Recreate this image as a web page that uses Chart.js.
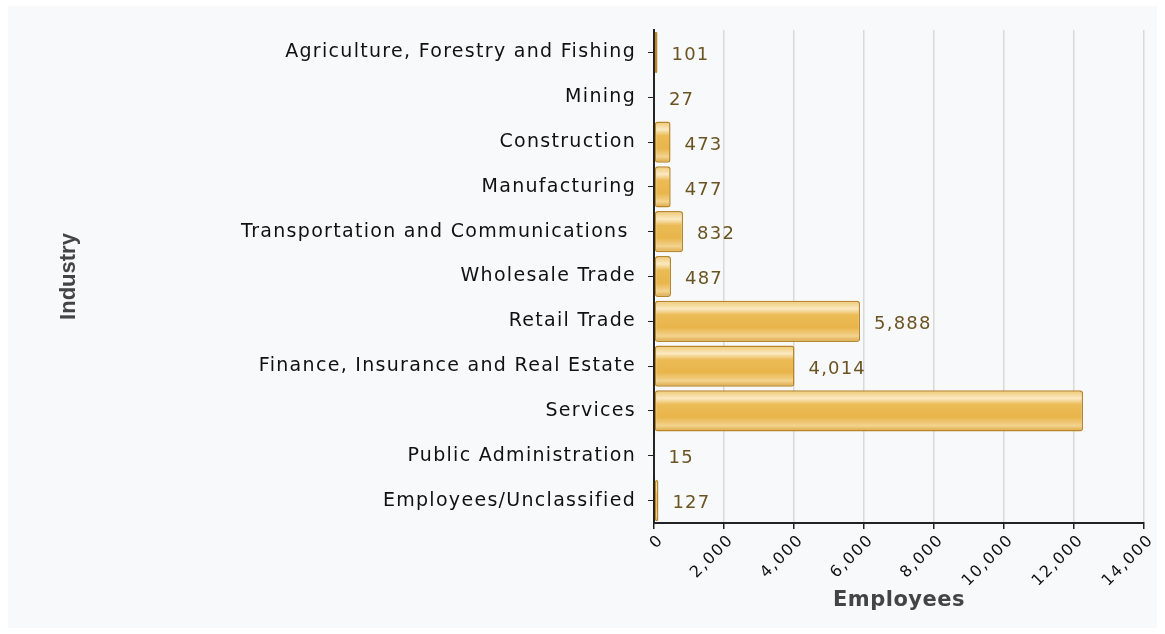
<!DOCTYPE html>
<html>
<head>
<meta charset="utf-8">
<script src="https://cdn.jsdelivr.net/npm/chart.js@4.4.1/dist/chart.umd.min.js"></script>
<style>
  html, body { margin: 0; padding: 0; background: #ffffff; }
  #wrap { width: 1165px; height: 634px; }
</style>
</head>
<body>
<div id="wrap"><canvas id="industry-chart"></canvas></div>
<script>
var industries = [
    "Agriculture, Forestry and Fishing",
    "Mining",
    "Construction",
    "Manufacturing",
    "Transportation and Communications ",
    "Wholesale Trade",
    "Retail Trade",
    "Finance, Insurance and Real Estate",
    "Services",
    "Public Administration",
    "Employees/Unclassified"
];
var employees = [101, 27, 473, 477, 832, 487, 5888, 4014, 12259, 15, 127];
var xTicks = [0, 2000, 4000, 6000, 8000, 10000, 12000, 14000];

// light panel behind the chart
var panel = {
    id: 'panel',
    beforeDraw: function (chart) {
        var ctx = chart.ctx;
        ctx.save();
        ctx.fillStyle = '#ffffff';
        ctx.fillRect(0, 0, chart.width, chart.height);
        ctx.fillStyle = '#f8f9fb';
        ctx.fillRect(8, 6, chart.width - 16, chart.height - 12);
        ctx.restore();
    }
};

// value labels right of each bar
var valueLabels = {
    id: 'valueLabels',
    afterDatasetsDraw: function (chart) {
        var ctx = chart.ctx;
        var meta = chart.getDatasetMeta(0);
        ctx.save();
        ctx.font = '18px "DejaVu Sans"';
        ctx.letterSpacing = '1.2px';
        ctx.fillStyle = '#6b5423';
        ctx.textBaseline = 'middle';
        meta.data.forEach(function (bar, i) {
            var txt = employees[i].toLocaleString('en-US');
            var x = bar.x + 14;
            if (x + ctx.measureText(txt).width > chart.chartArea.right) return;
            ctx.fillText(txt, x, bar.y + 3);
        });
        ctx.restore();
    }
};

// letter spacing for tick labels and titles of one scale
function spaceText(scale, labelSp, titleSp) {
    if (scale._spaced) return;
    scale._spaced = true;
    var drawLabels = scale.drawLabels, drawTitle = scale.drawTitle;
    scale.drawLabels = function (area) {
        var old = this.ctx.letterSpacing;
        this.ctx.letterSpacing = labelSp;
        drawLabels.call(this, area);
        this.ctx.letterSpacing = old;
    };
    scale.drawTitle = function () {
        var old = this.ctx.letterSpacing;
        this.ctx.letterSpacing = titleSp;
        drawTitle.call(this);
        this.ctx.letterSpacing = old;
    };
}

function barFill(context) {
    var chart = context.chart;
    var y = chart.scales.y;
    if (!y || !chart.chartArea) return '#e8b548';
    var c = y.getPixelForValue(context.dataIndex);
    var h = 21;
    var g = chart.ctx.createLinearGradient(0, c - h, 0, c + h);
    g.addColorStop(0, '#eec56a');
    g.addColorStop(0.2, '#fbe9c2');
    g.addColorStop(0.35, '#ebbb55');
    g.addColorStop(0.65, '#e8b54b');
    g.addColorStop(0.85, '#f3d38f');
    g.addColorStop(1, '#d9a238');
    return g;
}

new Chart(document.getElementById("industry-chart"), {
    type: 'bar',
    data: {
        labels: industries,
        datasets: [{
            data: employees,
            backgroundColor: barFill,
            borderColor: '#b98629',
            borderWidth: 1.5,
            borderRadius: 3,
            borderSkipped: false,
            barPercentage: 0.92,
            categoryPercentage: 1
        }]
    },
    plugins: [panel, valueLabels],
    options: {
        indexAxis: 'y',
        responsive: true,
        maintainAspectRatio: false,
        animation: false,
        layout: {
            padding: { left: 48, top: 30, right: 21, bottom: 14 }
        },
        plugins: {
            legend: { display: false },
            tooltip: { enabled: false }
        },
        scales: {
            x: {
                min: 0,
                max: 14000,
                afterBuildTicks: function (scale) {
                    scale.ticks = xTicks.map(function (v) { return { value: v }; });
                },
                afterFit: function (scale) {
                    scale.paddingLeft = 0;
                    scale.paddingRight = 0;
                    scale.height = 634 - 14 - 523;
                    spaceText(scale, '1.5px', '0.5px');
                },
                grid: {
                    color: '#d9d9d9',
                    lineWidth: 1.5,
                    tickColor: '#222222',
                    tickLength: 6
                },
                border: { color: '#222222', width: 2 },
                ticks: {
                    minRotation: 45,
                    maxRotation: 45,
                    padding: 2,
                    labelOffset: 7,
                    color: '#111111',
                    font: { family: 'DejaVu Sans', size: 16 },
                    callback: function (v) { return Number(v).toLocaleString('en-US'); }
                },
                title: {
                    display: true,
                    text: 'Employees',
                    color: '#444444',
                    font: { family: 'DejaVu Sans', size: 21, weight: 'bold' },
                    padding: { top: 4, bottom: 7 }
                }
            },
            y: {
                afterFit: function (scale) {
                    scale.width = 654 - 48;
                    spaceText(scale, '1.3px', '0px');
                },
                grid: {
                    offset: false,
                    drawOnChartArea: false,
                    tickColor: '#222222',
                    tickLength: 6
                },
                border: { color: '#222222', width: 2 },
                ticks: {
                    color: '#111111',
                    padding: 12,
                    font: { family: 'DejaVu Sans', size: 19 }
                },
                title: {
                    display: true,
                    text: 'Industry',
                    color: '#444444',
                    font: { family: 'Liberation Sans', size: 22, weight: 'bold' },
                    padding: { top: 8, bottom: 4 }
                }
            }
        }
    }
});
</script>
</body>
</html>
